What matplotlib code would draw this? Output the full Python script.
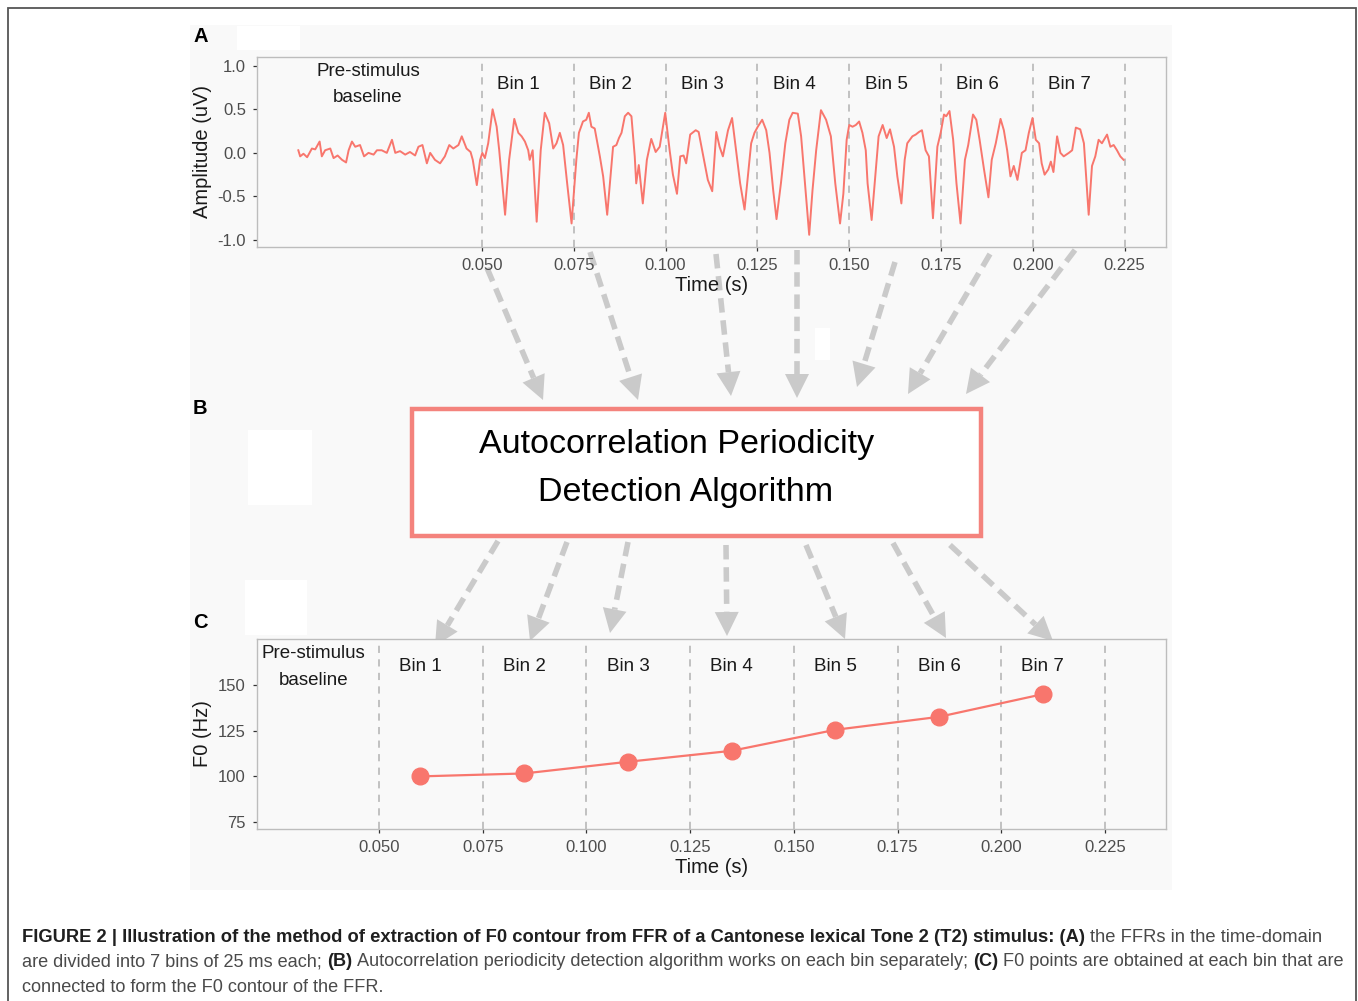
import numpy as np
import matplotlib
matplotlib.use('Agg')
import matplotlib.pyplot as plt
from matplotlib import font_manager
from matplotlib.patches import Rectangle, Polygon

plt.rcParams['font.family'] = ['Liberation Sans', 'DejaVu Sans']

# --- data -------------------------------------------------------------
# FFR waveform (time in ms, amplitude in uV)
ffr_time_ms = [0.0, 0.5, 1.4, 2.4, 3.7, 4.6, 5.8, 6.4, 7.3, 8.7, 9.6, 10.7, 11.9, 13.0, 13.7,
               14.6, 15.5, 16.8, 17.9, 19.1, 20.5, 21.4, 22.7, 24.1, 25.5, 26.4, 27.7, 29.1,
               30.4, 31.8, 32.7, 33.8, 35.0, 35.9, 37.2, 38.6, 39.9, 41.1, 42.2, 43.6, 44.5,
               45.8, 46.9, 47.5, 48.6, 49.5, 50.1, 50.8, 51.7, 52.9, 54.0, 54.7, 56.3, 57.4,
               58.8, 59.9, 60.8, 61.7, 62.6, 63.0, 63.8, 64.9, 66.0, 67.1, 68.3, 69.4, 70.3,
               71.2, 72.1, 73.2, 74.4, 75.7, 76.4, 77.5, 78.4, 79.1, 79.8, 80.7, 82.1, 83.0,
               84.1, 85.0, 85.7, 86.6, 87.3, 88.0, 88.9, 89.8, 90.7, 91.6, 92.0, 92.7, 93.8,
               94.9, 96.1, 97.3, 98.4, 99.9, 101.1, 102.0, 103.1, 104.0, 104.9, 105.6, 106.7,
               108.2, 109.0, 110.1, 111.5, 112.7, 113.8, 114.7, 115.6, 117.0, 118.1, 119.2,
               120.3, 121.5, 122.4, 123.3, 124.2, 125.1, 126.3, 127.4, 128.3, 129.3, 130.2,
               131.4, 132.6, 133.7, 134.6, 136.0, 136.9, 137.8, 139.1, 140.0, 141.0, 142.3,
               143.7, 145.0, 146.2, 147.5, 148.4, 149.3, 150.0, 150.9, 151.8, 152.7, 153.6,
               154.5, 155.0, 156.1, 157.1, 158.0, 159.1, 160.2, 161.1, 162.2, 163.1, 164.2,
               165.1, 165.8, 167.2, 168.1, 169.0, 169.8, 170.8, 171.7, 172.8, 174.0, 174.9,
               175.8, 176.4, 177.3, 178.3, 179.2, 180.3, 181.5, 182.4, 183.7, 184.6, 185.5,
               186.7, 187.9, 188.8, 189.9, 191.2, 192.1, 193.0, 193.9, 194.8, 195.8, 197.0,
               198.0, 198.9, 199.9, 200.8, 201.7, 202.4, 203.2, 204.2, 204.9, 205.6, 206.6,
               207.5, 208.4, 209.8, 210.7, 211.7, 212.9, 213.9, 215.2, 216.1, 217.0, 217.9,
               218.8, 220.2, 221.1, 222.0, 222.9, 223.8, 224.7]
ffr_amp = [0.03, -0.04, -0.01, -0.05, 0.05, 0.04, 0.13, -0.04, 0.03, 0.05, -0.06, -0.03, -0.08,
           -0.11, 0.03, 0.13, 0.07, 0.09, -0.04, 0.00, -0.02, 0.03, 0.03, 0.00, 0.15, 0.00,
           0.02, -0.02, 0.01, -0.03, 0.07, 0.09, -0.12, 0.00, -0.08, -0.12, -0.04, 0.09, 0.05,
           0.09, 0.19, 0.05, 0.01, -0.08, -0.37, -0.08, 0.00, -0.06, 0.11, 0.50, 0.30, 0.03,
           -0.71, -0.08, 0.39, 0.23, 0.19, 0.13, 0.03, -0.08, 0.03, -0.79, 0.03, 0.46, 0.34,
           0.05, 0.11, 0.23, 0.09, -0.35, -0.81, -0.08, 0.23, 0.36, 0.38, 0.46, 0.30, 0.28,
           -0.04, -0.27, -0.71, -0.27, 0.07, 0.09, 0.17, 0.23, 0.42, 0.46, 0.42, -0.04, -0.35,
           -0.14, -0.58, -0.08, 0.16, 0.01, 0.07, 0.46, 0.03, -0.25, -0.47, -0.04, -0.03,
           -0.12, 0.21, 0.26, 0.24, 0.00, -0.31, -0.44, 0.24, 0.07, -0.04, 0.26, 0.40, 0.03,
           -0.35, -0.65, -0.27, 0.11, 0.23, 0.30, 0.38, 0.26, 0.00, -0.43, -0.76, -0.35, 0.11,
           0.38, 0.46, 0.45, 0.19, -0.27, -0.94, -0.43, 0.03, 0.49, 0.38, 0.19, -0.35, -0.81,
           -0.47, 0.15, 0.32, 0.30, 0.32, 0.36, 0.23, 0.03, -0.35, -0.77, -0.27, 0.19, 0.32,
           0.17, 0.27, 0.07, -0.27, -0.58, -0.08, 0.11, 0.19, 0.21, 0.24, 0.26, 0.03, -0.04,
           -0.75, 0.07, 0.23, 0.44, 0.42, 0.48, 0.15, -0.35, -0.81, -0.08, 0.09, 0.44, 0.38,
           0.15, -0.19, -0.51, -0.08, 0.11, 0.39, 0.26, 0.03, -0.27, -0.15, -0.31, 0.00, 0.03,
           0.23, 0.40, 0.15, 0.11, -0.12, -0.25, -0.19, -0.10, -0.22, 0.19, 0.00, -0.04, 0.00,
           0.03, 0.29, 0.27, 0.11, -0.71, -0.15, -0.04, 0.15, 0.11, 0.21, 0.07, 0.09, 0.03,
           -0.04, -0.08]

bin_edges = [0.050, 0.075, 0.100, 0.125, 0.150, 0.175, 0.200, 0.225]
bin_labels = ['Bin 1', 'Bin 2', 'Bin 3', 'Bin 4', 'Bin 5', 'Bin 6', 'Bin 7']
bin_label_pos = [0.060, 0.085, 0.110, 0.135, 0.160, 0.185, 0.210]
tick_labels = ['0.050', '0.075', '0.100', '0.125', '0.150', '0.175', '0.200', '0.225']

amp_ticks = [-1.0, -0.5, 0.0, 0.5, 1.0]
amp_tick_labels = ['-1.0', '-0.5', '0.0', '0.5', '1.0']

f0_time = [0.060, 0.085, 0.110, 0.135, 0.160, 0.185, 0.210]
f0_hz = [100.0, 101.6, 108.0, 114.0, 125.5, 132.6, 145.0]
f0_ticks = [75, 100, 125, 150]

# --- styles ------------------------------------------------------------
W, H = 1358, 1001
RED = '#F8766D'
GRID = '#BDBDBD'
PANEL_BG = '#F9F9F9'
ARROW = '#CACACA'

fig = plt.figure(figsize=(W / 100, H / 100), dpi=100)
fig.patch.set_facecolor('white')


def px_axes(x0, y0, x1, y1, **kw):
    return fig.add_axes([x0 / W, 1 - y1 / H, (x1 - x0) / W, (y1 - y0) / H], **kw)


def overlay(z):
    ax = fig.add_axes([0, 0, 1, 1], zorder=z)
    ax.set_xlim(0, W)
    ax.set_ylim(H, 0)
    ax.axis('off')
    ax.patch.set_alpha(0)
    return ax


# background layer
bg = overlay(0)
bg.add_patch(Rectangle((190, 25), 982, 865, facecolor=PANEL_BG, edgecolor='none'))
for (x, y, w, h) in [(237, 26, 63, 24), (248, 430, 64, 75), (245, 580, 62, 55), (815, 328, 15, 32)]:
    bg.add_patch(Rectangle((x, y), w, h, facecolor='white', edgecolor='none'))
bg.plot([8, 8, 1356, 1356], [1001, 8, 8, 1001], color='#555555', lw=1.3, solid_joinstyle='miter')

# arrow layer (below the panel texts)
arr = overlay(0.5)


def dashed_arrow(x0, y0, x1, y1, head=24):
    d = np.array([x1 - x0, y1 - y0], dtype=float)
    u = d / np.hypot(*d)
    n = np.array([-u[1], u[0]])
    bx, by = np.array([x1, y1]) - u * head
    arr.plot([x0, bx], [y0, by], color=ARROW, lw=4, ls=(0, (2.6, 1.4)),
             dash_capstyle='butt')
    pts = [(x1, y1), (bx + n[0] * head / 2, by + n[1] * head / 2),
           (bx - n[0] * head / 2, by - n[1] * head / 2)]
    arr.add_patch(Polygon(pts, closed=True, facecolor=ARROW, edgecolor='none'))


arrows_in = [((487, 268), (543, 400)), ((590, 252), (638, 400)), ((716, 254), (731, 396)),
             ((797, 250), (797, 398)), ((895, 262), (857, 387)), ((990, 254), (908, 394)),
             ((1075, 250), (966, 394))]
arrows_out = [((498, 541), (435, 646)), ((567, 542), (530, 641)), ((628, 542), (610, 633)),
              ((726, 545), (727, 636)), ((806, 545), (845, 639)), ((893, 543), (946, 638)),
              ((950, 545), (1053, 641))]
for (a, b) in arrows_in + arrows_out:
    dashed_arrow(a[0], a[1], b[0], b[1])


def style_panel(ax):
    ax.set_facecolor(PANEL_BG)
    for s in ax.spines.values():
        s.set_color(GRID)
        s.set_linewidth(1.0)
    ax.tick_params(length=3, width=0.9, color='#333333', labelcolor='#4D4D4D',
                   labelsize=12, pad=5)
    for e in bin_edges:
        ax.axvline(e, color=GRID, lw=1.3, ls=(0, (4, 3.5)), zorder=1)
    ax.set_xticks(bin_edges)
    ax.set_xticklabels(tick_labels)
    ax.set_xlabel('Time (s)', fontsize=14.5, color='#1A1A1A', labelpad=2)


# panel A
axA = px_axes(257, 57, 1166, 247, zorder=1)
style_panel(axA)
axA.plot(np.array(ffr_time_ms) / 1000.0, ffr_amp, color=RED, lw=1.4, zorder=2)
axA.set_xlim(-0.01125, 0.23625)
axA.set_ylim(-1.08, 1.10)
axA.set_yticks(amp_ticks)
axA.set_yticklabels(amp_tick_labels)
axA.set_ylabel('Amplitude (uV)', fontsize=14.5, color='#1A1A1A', labelpad=4)
for lab, xpos in zip(bin_labels, bin_label_pos):
    axA.text(xpos, 0.79, lab, ha='center', va='center', fontsize=13.5, color='#1A1A1A')
axA.text(0.019, 0.785, 'Pre-stimulus\nbaseline', ha='center', va='center', fontsize=13.5,
         color='#1A1A1A', linespacing=1.75)

# panel C
axC = px_axes(257, 639, 1166, 829, zorder=1)
style_panel(axC)
axC.plot(f0_time, f0_hz, color=RED, lw=1.6, marker='o', markersize=12, zorder=3)
axC.set_xlim(0.0206, 0.2397)
axC.set_ylim(71.2, 175.2)
axC.set_yticks(f0_ticks)
axC.set_ylabel('F0 (Hz)', fontsize=14.5, color='#1A1A1A', labelpad=4)
for lab, xpos in zip(bin_labels, bin_label_pos):
    axC.text(xpos, 160, lab, ha='center', va='center', fontsize=13.5, color='#1A1A1A')
axC.text(0.0343, 160, 'Pre-stimulus\nbaseline', ha='center', va='center', fontsize=13.5,
         color='#1A1A1A', linespacing=1.75)

# top layer: algorithm box, panel letters
top = overlay(2)
top.add_patch(Rectangle((412, 409), 569, 127, facecolor='white', edgecolor='#F4837D', lw=3.2))
top.text(677, 444, 'Autocorrelation Periodicity', ha='center', va='center', fontsize=24.5,
         color='black')
top.text(686, 493, 'Detection Algorithm', ha='center', va='center', fontsize=24.5,
         color='black')

for letter, y in [('A', 36), ('B', 409), ('C', 622)]:
    top.text(193, y, letter, ha='left', va='center', fontsize=14.5, fontweight='bold',
             color='black')

# caption
names = {f.name for f in font_manager.fontManager.ttflist}
cap_font = 'Liberation Sans Narrow' if 'Liberation Sans Narrow' in names else 'Liberation Sans'

cap_lines = [
    [('FIGURE 2 | Illustration of the method of extraction of F0 contour from FFR of a '
      'Cantonese lexical Tone 2 (T2) stimulus: (A)', True), ('the FFRs in the time-domain', False)],
    [('are divided into 7 bins of 25 ms each;', False), ('(B)', True),
     ('Autocorrelation periodicity detection algorithm works on each bin separately;', False),
     ('(C)', True), ('F0 points are obtained at each bin that are', False)],
    [('connected to form the F0 contour of the FFR.', False)],
]
cap_y = [937, 962, 987]
cap_target = [1300, 1320, None]
renderer = fig.canvas.get_renderer()


def text_width(s, bold, size):
    t = fig.text(0, 0, s, fontsize=size, family=cap_font, fontweight='bold' if bold else 'normal')
    w = t.get_window_extent(renderer).width
    t.remove()
    return w


def line_width(runs, size):
    sp = text_width('a a', False, size) - text_width('aa', False, size)
    return sum(text_width(s, b, size) for s, b in runs) + sp * (len(runs) - 1), sp


base = 13.0
size = base
for runs, y, target in zip(cap_lines, cap_y, cap_target):
    if target is not None:
        w, _ = line_width(runs, base)
        size = base * target / w
    _, sp = line_width(runs, size)
    x = 22.0
    for s, b in runs:
        t = fig.text(x / W, 1 - y / H, s, fontsize=size, family=cap_font,
                     fontweight='bold' if b else 'normal',
                     color='#1F1F1F' if b else '#4A4A4A', ha='left', va='center')
        x += t.get_window_extent(renderer).width + sp

fig.savefig('out.png', dpi=100, facecolor='white')
